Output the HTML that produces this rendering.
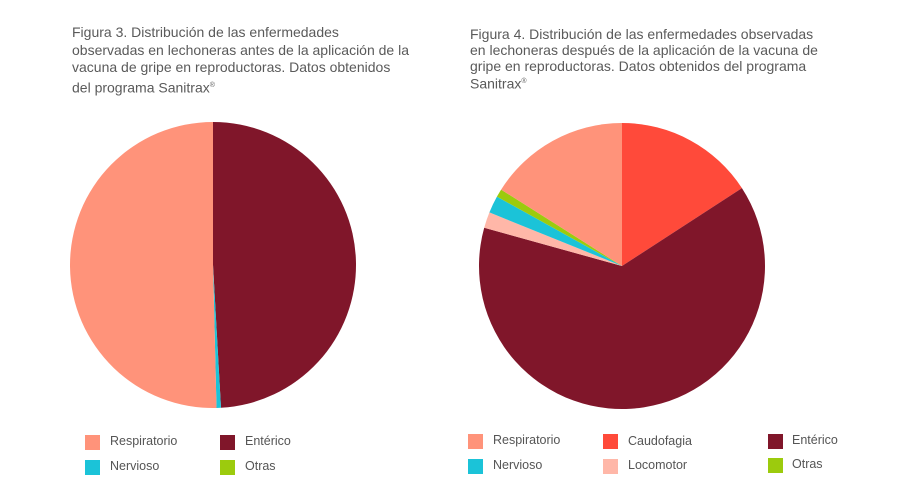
<!DOCTYPE html>
<html><head><meta charset="utf-8"><style>
body{margin:0;width:900px;height:504px;background:#fff;overflow:hidden;font-family:"Liberation Sans",sans-serif;color:#555;position:relative}
.t{position:absolute;font-size:14px;font-weight:300;color:#5a5a5a;white-space:nowrap}
.l{position:absolute;font-size:12.5px;color:#555}
.s{position:absolute;width:15px;height:15px}
sup{font-size:7px}
</style></head><body>
<div class="t" style="left:72px;top:24px;line-height:17.5px">Figura 3. Distribución de las enfermedades<br>observadas en lechoneras antes de la aplicación de la<br>vacuna de gripe en reproductoras. Datos obtenidos<br>del programa Sanitrax<sup>®</sup></div>
<div class="t" style="left:470px;top:26px;line-height:16px">Figura 4. Distribución de las enfermedades observadas<br>en lechoneras después de la aplicación de la vacuna de<br>gripe en reproductoras. Datos obtenidos del programa<br>Sanitrax<sup>®</sup></div>
<svg id="sv" width="900" height="504" style="position:absolute;left:0;top:0"></svg>
<div class="s" style="left:85px;top:435px;background:#FF937A"></div><div class="l" style="left:110px;top:434px">Respiratorio</div>
<div class="s" style="left:220px;top:435px;background:#80162A"></div><div class="l" style="left:245px;top:434px">Entérico</div>
<div class="s" style="left:85px;top:460px;background:#1BC3D8"></div><div class="l" style="left:110px;top:459px">Nervioso</div>
<div class="s" style="left:220px;top:460px;background:#9CCB0D"></div><div class="l" style="left:245px;top:459px">Otras</div>
<div class="s" style="left:468px;top:434px;background:#FF937A"></div><div class="l" style="left:493px;top:433px">Respiratorio</div>
<div class="s" style="left:603px;top:434px;background:#FF4A3A"></div><div class="l" style="left:628px;top:434px">Caudofagia</div>
<div class="s" style="left:768px;top:434px;background:#80162A"></div><div class="l" style="left:792px;top:433px">Entérico</div>
<div class="s" style="left:468px;top:459px;background:#1BC3D8"></div><div class="l" style="left:493px;top:458px">Nervioso</div>
<div class="s" style="left:603px;top:459px;background:#FFB7A8"></div><div class="l" style="left:628px;top:458px">Locomotor</div>
<div class="s" style="left:768px;top:458px;background:#9CCB0D"></div><div class="l" style="left:792px;top:457px">Otras</div>
<script>
function pie(cx,cy,r,segs){var s='',a0=0;segs.forEach(function(g){var a1=g[0],p=function(a){a=a*Math.PI/180;return [cx+r*Math.sin(a),cy-r*Math.cos(a)]};var A=p(a0),B=p(a1);s+='<path d="M'+cx+','+cy+' L'+A[0]+','+A[1]+' A'+r+','+r+' 0 '+((a1-a0)>180?1:0)+' 1 '+B[0]+','+B[1]+' Z" fill="'+g[1]+'"/>';a0=a1;});return s;}
document.getElementById('sv').innerHTML=
pie(213,265,143,[[176.8,'#80162A'],[178.6,'#1BC3D8'],[360,'#FF937A']])+
pie(622,266,143,[[57,'#FF4A3A'],[285.5,'#80162A'],[292,'#FFB7A8'],[299,'#1BC3D8'],[302.3,'#9CCB0D'],[360,'#FF937A']]);
</script>
</body></html>
